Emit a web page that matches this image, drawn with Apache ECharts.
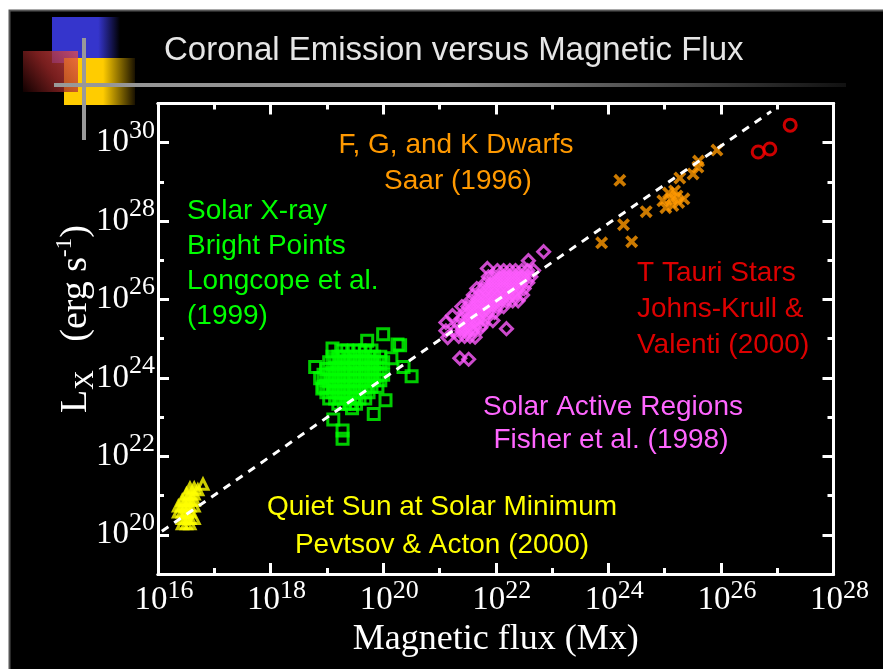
<!DOCTYPE html>
<html><head><meta charset="utf-8">
<script src="https://cdn.jsdelivr.net/npm/echarts@6/dist/echarts.min.js"></script>
<style>html,body{margin:0;padding:0;background:#000}#c{width:883px;height:669px}</style>
</head><body><div id="c"></div>
<script>
// ---- tick values ----
const xMajorTicks = [1e16, 1e18, 1e20, 1e22, 1e24, 1e26, 1e28];
const xMinorTicks = [1e16, 1e17, 1e18, 1e19, 1e20, 1e21, 1e22, 1e23, 1e24, 1e25, 1e26, 1e27, 1e28];
const yMajorTicks = [1e20, 1e22, 1e24, 1e26, 1e28, 1e30];
const yMinorTicks = [1e19, 1e20, 1e21, 1e22, 1e23, 1e24, 1e25, 1e26, 1e27, 1e28, 1e29, 1e30, 1e31];

// ---- data [flux Mx, Lx erg/s] ----
const quietSun = [
  [3.7e16,1.55e21],[4.4e16,1.55e21],
  [3.2e16,1.1e21],[3.7e16,1.1e21],[4.4e16,1.1e21],
  [2.7e16,7.6e20],[3.2e16,7.6e20],[3.7e16,7.6e20],[4.4e16,7.6e20],
  [2.3e16,5.4e20],[2.7e16,5.4e20],[3.2e16,5.4e20],[3.7e16,5.4e20],[4.4e16,5.4e20],
  [2.3e16,3.8e20],[2.7e16,3.8e20],[3.2e16,3.8e20],[3.7e16,3.8e20],
  [2.7e16,2.6e20],[3.2e16,2.6e20],[3.7e16,2.6e20],[4.4e16,2.6e20],
  [2.7e16,1.9e20],[3.2e16,1.9e20],[3.7e16,1.9e20],
  [6.3e16,1.95e21],[5.1e16,1.4e21]
];
const brightPoints = [
  [1.8e19,5.0e24],[2.3e19,5.0e24],[3.0e19,5.0e24],[3.8e19,5.0e24],[4.8e19,5.0e24],[6.2e19,5.0e24],
  [1.26e19,3.5e24],[1.6e19,3.5e24],[2.0e19,3.5e24],[2.6e19,3.5e24],[3.3e19,3.5e24],[4.3e19,3.5e24],[5.5e19,3.5e24],[6.9e19,3.5e24],[8.9e19,3.5e24],
  [1.1e19,2.5e24],[1.4e19,2.5e24],[1.8e19,2.5e24],[2.3e19,2.5e24],[3.0e19,2.5e24],[3.8e19,2.5e24],[4.8e19,2.5e24],[6.2e19,2.5e24],[7.9e19,2.5e24],[1.0e20,2.5e24],
  [9.8e18,1.7e24],[1.26e19,1.7e24],[1.6e19,1.7e24],[2.0e19,1.7e24],[2.6e19,1.7e24],[3.3e19,1.7e24],[4.3e19,1.7e24],[5.5e19,1.7e24],[6.9e19,1.7e24],[8.9e19,1.7e24],
  [8.7e18,1.2e24],[1.1e19,1.2e24],[1.4e19,1.2e24],[1.8e19,1.2e24],[2.3e19,1.2e24],[3.0e19,1.2e24],[3.8e19,1.2e24],[4.8e19,1.2e24],[6.2e19,1.2e24],[7.9e19,1.2e24],[1.0e20,1.2e24],
  [9.8e18,8.7e23],[1.26e19,8.7e23],[1.6e19,8.7e23],[2.0e19,8.7e23],[2.6e19,8.7e23],[3.3e19,8.7e23],[4.3e19,8.7e23],[5.5e19,8.7e23],[6.9e19,8.7e23],[8.9e19,8.7e23],
  [8.7e18,6.0e23],[1.1e19,6.0e23],[1.4e19,6.0e23],[1.8e19,6.0e23],[2.3e19,6.0e23],[3.0e19,6.0e23],[3.8e19,6.0e23],[4.8e19,6.0e23],[6.2e19,6.0e23],[7.9e19,6.0e23],
  [9.8e18,4.3e23],[1.26e19,4.3e23],[1.6e19,4.3e23],[2.0e19,4.3e23],[2.6e19,4.3e23],[3.3e19,4.3e23],[4.3e19,4.3e23],[5.5e19,4.3e23],
  [1.1e19,3.0e23],[1.4e19,3.0e23],[1.8e19,3.0e23],[2.3e19,3.0e23],[3.0e19,3.0e23],[3.8e19,3.0e23],[4.8e19,3.0e23],
  [1.6e19,2.2e23],[2.0e19,2.2e23],[2.6e19,2.2e23],[3.3e19,2.2e23],
  [1.26e19,5.6e24],[1.0e20,1.3e25],[5.2e19,8.9e24],[1.8e20,7.1e24],[2.0e20,6.8e24],[6.2e18,1.9e24],
  [7.6e18,9.8e23],[8.3e18,5.4e23],[1.4e20,3.2e24],[2.3e20,1.9e24],[3.2e20,1.1e24],[1.1e20,2.7e23],
  [6.8e19,1.2e23],[2.8e19,1.7e23],[1.3e19,8.7e22],[1.9e19,4.6e22],[1.9e19,2.8e22]
];
const activeRegions = [
  [1.07e22,5.5e26],[1.38e22,5.5e26],[1.78e22,5.5e26],[2.24e22,5.5e26],[2.9e22,5.5e26],[3.7e22,5.5e26],[4.7e22,5.5e26],
  [7.4e21,3.8e26],[9.5e21,3.8e26],[1.23e22,3.8e26],[1.55e22,3.8e26],[2.0e22,3.8e26],[2.57e22,3.8e26],[3.2e22,3.8e26],[4.2e22,3.8e26],
  [6.6e21,2.7e26],[8.5e21,2.7e26],[1.07e22,2.7e26],[1.38e22,2.7e26],[1.78e22,2.7e26],[2.24e22,2.7e26],[2.9e22,2.7e26],[3.7e22,2.7e26],
  [4.6e21,1.9e26],[5.9e21,1.9e26],[7.4e21,1.9e26],[9.5e21,1.9e26],[1.23e22,1.9e26],[1.55e22,1.9e26],[2.0e22,1.9e26],[2.57e22,1.9e26],[3.2e22,1.9e26],
  [4.0e21,1.3e26],[5.1e21,1.3e26],[6.6e21,1.3e26],[8.5e21,1.3e26],[1.07e22,1.3e26],[1.38e22,1.3e26],[1.78e22,1.3e26],[2.24e22,1.3e26],
  [3.5e21,9.3e25],[4.6e21,9.3e25],[5.9e21,9.3e25],[7.4e21,9.3e25],[9.5e21,9.3e25],[1.23e22,9.3e25],[1.55e22,9.3e25],[2.0e22,9.3e25],
  [2.5e21,6.6e25],[3.2e21,6.6e25],[4.0e21,6.6e25],[5.1e21,6.6e25],[6.6e21,6.6e25],[8.5e21,6.6e25],[1.07e22,6.6e25],[1.38e22,6.6e25],
  [2.8e21,4.7e25],[3.5e21,4.7e25],[4.6e21,4.7e25],[5.9e21,4.7e25],[7.4e21,4.7e25],[9.5e21,4.7e25],
  [2.5e21,3.2e25],[3.2e21,3.2e25],[4.0e21,3.2e25],[5.1e21,3.2e25],[6.6e21,3.2e25],
  [2.2e21,2.3e25],[2.8e21,2.3e25],[3.5e21,2.3e25],[4.6e21,2.3e25],[5.9e21,2.3e25],
  [1.9e21,1.6e25],[2.5e21,1.6e25],[3.2e21,1.6e25],[4.0e21,1.6e25],
  [2.2e21,1.15e25],[2.8e21,1.15e25],[3.5e21,1.15e25],
  [7.1e22,1.66e27],[1.55e22,1.8e25],[2.3e21,3.2e24],[3.3e21,3.0e24],[1.3e21,2.6e25],[1.7e21,3.9e25],
  [7.1e21,6.2e26],[3.8e22,9.8e26],[2.5e22,9.3e25],[1.4e21,1.07e25],[1.3e21,1.6e25],[8.9e21,2.9e25],
  [5.4e21,1.9e25],[4.3e21,1.1e25],[3.0e22,1.3e26]
];
const dwarfStars = [
  [1.6e24,1.1e29],[7.6e23,2.8e27],[1.86e24,8.1e27],[2.6e24,3.0e27],[4.7e24,1.74e28],
  [9.3e24,3.3e28],[1.17e25,5.2e28],[1.66e25,4.4e28],[1.4e25,2.5e28],[1.05e25,2.2e28],
  [1.78e25,3.0e28],[1.3e25,3.7e28],[1.5e25,5.9e28],[2.2e25,3.7e28],
  [1.86e25,1.26e29],[3.2e25,1.6e29],[4.0e25,3.4e29],[3.9e25,2.4e29],[8.5e25,6.5e29]
];
const tTauriStars = [[1.7e27,2.8e30],[4.6e26,5.8e29],[7.4e26,6.9e29]];
const fitLine = [[1.17e16,1.23e20],[7.8e26,6.3e30]];

// ---- styling helpers ----
const SERIF = '"Liberation Serif", "Times New Roman", serif';
const SANS = '"Liberation Sans", Arial, sans-serif';
const supFmt = v => '{b|10}{s|' + Math.round(Math.log10(v)) + '}';

function axis(kind, position, ticks, len, label) {
  const a = {
    type: 'log', logBase: 10, position,
    min: kind === 'x' ? 1e16 : 1e19, max: kind === 'x' ? 1e28 : 1e31,
    axisLine: { show: true, onZero: false, lineStyle: { color: '#fff', width: 3 } },
    axisTick: { show: true, inside: true, length: len, customValues: ticks, lineStyle: { color: '#fff', width: 3 } },
    axisLabel: { show: false },
    splitLine: { show: false }, minorTick: { show: false }, minorSplitLine: { show: false }
  };
  if (label) a.axisLabel = label;
  return a;
}

const xLabel = {
  show: true, customValues: xMajorTicks, margin: 4, formatter: supFmt,
  rich: {
    b: { fontFamily: SERIF, fontSize: 33, color: '#fff', lineHeight: 44, padding: [0, 0, 0, 12] },
    s: { fontFamily: SERIF, fontSize: 26, color: '#fff', lineHeight: 26, verticalAlign: 'top' }
  }
};
const yLabel = {
  show: true, customValues: yMajorTicks, margin: 3, formatter: supFmt,
  rich: {
    b: { fontFamily: SERIF, fontSize: 33, color: '#fff', lineHeight: 50 },
    s: { fontFamily: SERIF, fontSize: 26, color: '#fff', lineHeight: 26, verticalAlign: 'top' }
  }
};

const xAxes = [
  axis('x', 'bottom', xMajorTicks, 11, xLabel),
  axis('x', 'bottom', xMinorTicks, 6),
  axis('x', 'top', xMajorTicks, 11),
  axis('x', 'top', xMinorTicks, 6)
];
Object.assign(xAxes[0], {
  name: 'Magnetic flux (Mx)', nameLocation: 'middle', nameGap: 43,
  nameTextStyle: { fontFamily: SERIF, fontSize: 36, color: '#fff' }
});
const yAxes = [
  axis('y', 'left', yMajorTicks, 11, yLabel),
  axis('y', 'left', yMinorTicks, 6),
  axis('y', 'right', yMajorTicks, 11),
  axis('y', 'right', yMinorTicks, 6)
];

const hollow = (c, w) => ({ color: 'rgba(0,0,0,0)', borderColor: c, borderWidth: w });
const xPath = 'path://M2,0 L5,3 L8,0 L10,2 L7,5 L10,8 L8,10 L5,7 L2,10 L0,8 L3,5 L0,2 Z';

function txt(text, x, y, color, align) {
  return { type: 'text', x, y, z: 50, style: { text, fill: color, font: '28px ' + SANS, align: align || 'left', verticalAlign: 'middle' } };
}

const graphics = [
  { type: 'rect', shape: { x: 0, y: 0, width: 883, height: 10 }, style: { fill: '#fff' }, z: 1 },
  { type: 'rect', shape: { x: 0, y: 0, width: 9, height: 669 }, style: { fill: '#fff' }, z: 1 },
  { type: 'rect', shape: { x: 9.5, y: 10.5, width: 880, height: 670 }, style: { fill: 'none', stroke: '#555', lineWidth: 2 }, z: 1 },
  { type: 'rect', shape: { x: 52, y: 17, width: 68, height: 46 }, z: 2,
    style: { fill: { type: 'linear', x: 0, y: 0, x2: 1, y2: 0, colorStops: [{ offset: 0, color: '#3535cc' }, { offset: 0.68, color: '#3535cc' }, { offset: 1, color: '#000' }] } } },
  { type: 'rect', shape: { x: 64, y: 58, width: 71, height: 47 }, z: 3,
    style: { fill: { type: 'linear', x: 0, y: 0, x2: 1, y2: 0, colorStops: [{ offset: 0, color: '#ffcc00' }, { offset: 0.55, color: '#ffcc00' }, { offset: 1, color: '#1a1200' }] } } },
  { type: 'rect', shape: { x: 23, y: 51, width: 55, height: 41 }, z: 4,
    style: { fill: { type: 'linear', x: 1, y: 0, x2: 0, y2: 1, colorStops: [{ offset: 0, color: 'rgba(235,80,80,0.75)' }, { offset: 0.5, color: 'rgba(160,40,40,0.75)' }, { offset: 1, color: 'rgba(20,0,0,0.8)' }] } } },
  { type: 'rect', shape: { x: 82, y: 38, width: 4, height: 102 }, style: { fill: '#999' }, z: 5 },
  { type: 'rect', shape: { x: 54, y: 83, width: 792, height: 4 }, z: 5,
    style: { fill: { type: 'linear', x: 0, y: 0, x2: 1, y2: 0, colorStops: [{ offset: 0, color: '#999' }, { offset: 0.5, color: '#8a8a8a' }, { offset: 1, color: '#111' }] } } },
  { type: 'text', x: 164, y: 51, z: 6, style: { text: 'Coronal Emission versus Magnetic Flux', fill: '#e6e6e6', font: '33px ' + SANS, align: 'left', verticalAlign: 'middle' } },
  { type: 'text', x: 76, y: 319, rotation: Math.PI / 2, z: 6,
    style: { text: '{L|L}{sub|X}{t|   (erg s}{sup|-1}{t|)}', align: 'center', verticalAlign: 'middle',
      rich: {
        L: { fontFamily: SERIF, fontSize: 38, fill: '#fff', lineHeight: 46 },
        sub: { fontFamily: SERIF, fontSize: 27, fill: '#fff', lineHeight: 35, verticalAlign: 'bottom' },
        t: { fontFamily: SERIF, fontSize: 38, fill: '#fff', lineHeight: 46 },
        sup: { fontFamily: SERIF, fontSize: 23, fill: '#fff', lineHeight: 23, verticalAlign: 'top' }
      } } },
  txt('F, G, and K Dwarfs', 456, 145, '#ff9900', 'center'),
  txt('Saar (1996)', 458, 181, '#ff9900', 'center'),
  txt('Solar X-ray', 187, 211, '#00ff00'),
  txt('Bright Points', 187, 246, '#00ff00'),
  txt('Longcope et al.', 187, 281, '#00ff00'),
  txt('(1999)', 187, 316, '#00ff00'),
  txt('T Tauri Stars', 637, 273, '#dd0000'),
  txt('Johns-Krull &', 637, 309, '#dd0000'),
  txt('Valenti (2000)', 637, 345, '#dd0000'),
  txt('Solar Active Regions', 613, 407, '#ff66ff', 'center'),
  txt('Fisher et al. (1998)', 611, 440, '#ff66ff', 'center'),
  txt('Quiet Sun at Solar Minimum', 442, 507, '#ffff00', 'center'),
  txt('Pevtsov & Acton (2000)', 442, 545, '#ffff00', 'center')
];

const chart = echarts.init(document.getElementById('c'));
chart.setOption({
  backgroundColor: '#000',
  animation: false,
  grid: { left: 158, right: 49.5, top: 103.5, bottom: 95, containLabel: false, outerBoundsMode: 'none' },
  xAxis: xAxes,
  yAxis: yAxes,
  graphic: graphics,
  series: [
    { name: 'Quiet Sun', type: 'scatter', data: quietSun, symbol: 'triangle', symbolSize: 10, itemStyle: hollow('#ffff00', 3) },
    { name: 'X-ray Bright Points', type: 'scatter', data: brightPoints, symbol: 'rect', symbolSize: 11, itemStyle: hollow('#00ff00', 3) },
    { name: 'Active Regions', type: 'scatter', data: activeRegions, symbol: 'diamond', symbolSize: 12, itemStyle: hollow('#ff5cff', 3) },
    { name: 'F, G, K Dwarfs', type: 'scatter', data: dwarfStars, symbol: xPath, symbolSize: 13, itemStyle: { color: '#ff9900' } },
    { name: 'T Tauri Stars', type: 'scatter', data: tTauriStars, symbol: 'circle', symbolSize: 12, itemStyle: hollow('#ff0000', 3) },
    { name: 'Fit', type: 'line', data: fitLine, z: 10, symbol: 'none', silent: true,
      lineStyle: { color: '#fff', width: 3, type: [8, 7] } }
  ]
});
</script></body></html>
